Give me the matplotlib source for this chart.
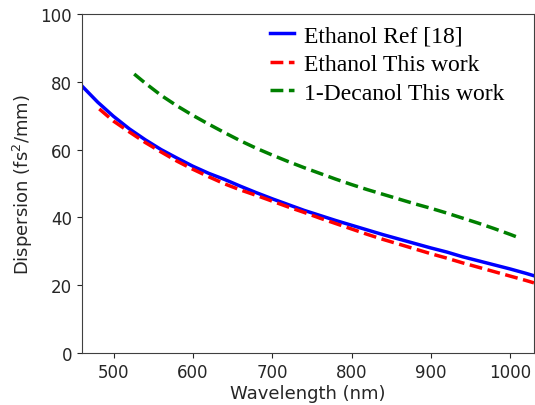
import numpy as np
import matplotlib
matplotlib.use('Agg')
import matplotlib.pyplot as plt

plt.rcParams['font.family'] = 'DejaVu Sans'

# Valores (dispersao em fs^2/mm)
wl_ref = [460, 480, 500, 520, 540, 560, 580, 600, 620, 640, 660, 680, 700, 720, 740,
          760, 780, 800, 820, 840, 860, 880, 900, 920, 940, 960, 980, 1000, 1020, 1030]
d_ref = [78.8, 74.0, 69.8, 66.1, 62.9, 60.0, 57.5, 55.1, 53.0, 51.2, 49.2, 47.3, 45.5, 43.8, 42.1,
         40.6, 39.1, 37.7, 36.3, 34.9, 33.6, 32.3, 31.0, 29.8, 28.4, 27.2, 26.0, 24.8, 23.5, 22.8]

wl_eth = [482, 500, 520, 540, 560, 580, 600, 620, 640, 660, 680, 700, 720, 740, 760,
          780, 800, 820, 840, 860, 880, 900, 920, 940, 960, 980, 1000, 1020, 1030]
d_eth = [72.0, 68.4, 65.2, 62.1, 59.3, 56.6, 54.2, 52.0, 49.9, 48.1, 46.5, 44.8, 43.1, 41.5, 39.8,
         38.2, 36.6, 35.0, 33.5, 32.1, 30.7, 29.3, 28.0, 26.6, 25.3, 24.0, 22.7, 21.4, 20.7]

wl_dec = [526, 540, 560, 580, 600, 620, 640, 660, 680, 700, 720, 740, 760, 780, 800,
          820, 840, 860, 880, 900, 920, 940, 960, 980, 1000, 1010]
d_dec = [82.3, 79.6, 76.0, 72.9, 70.1, 67.5, 65.0, 62.6, 60.4, 58.4, 56.5, 54.7, 53.0, 51.3, 49.7,
         48.2, 46.8, 45.4, 44.0, 42.7, 41.3, 39.8, 38.3, 36.7, 35.0, 34.1]

fig, ax = plt.subplots(figsize=(5.35, 4.06), dpi=100)
ax.plot(wl_ref, d_ref, '-', color='blue', lw=2.5, label='Ethanol Ref [18]')
ax.plot(wl_eth, d_eth, '--', color='red', lw=2.5, label='Ethanol This work')
ax.plot(wl_dec, d_dec, '--', color='green', lw=2.5, label='1-Decanol This work')

ax.set_xlim(460, 1030)
ax.set_ylim(0, 100)
ax.set_xlabel('Wavelength (nm)', fontsize=13, color='#262626', labelpad=2)
ax.set_ylabel('Dispersion (fs$^2$/mm)', fontsize=13, color='#262626')
ax.tick_params(labelsize=12, labelcolor='#262626', color='#262626')
for s in ax.spines.values():
    s.set_color('#404040')

ax.legend(loc='upper left', bbox_to_anchor=(0.416, 0.968), frameon=False,
          prop={'family': 'Liberation Serif', 'size': 17},
          handlelength=1.0, handletextpad=0.45, borderpad=0, borderaxespad=0,
          labelspacing=0.3)

plt.subplots_adjust(left=0.153, right=0.998, top=0.963, bottom=0.128)
plt.savefig('out.png', dpi=100)
